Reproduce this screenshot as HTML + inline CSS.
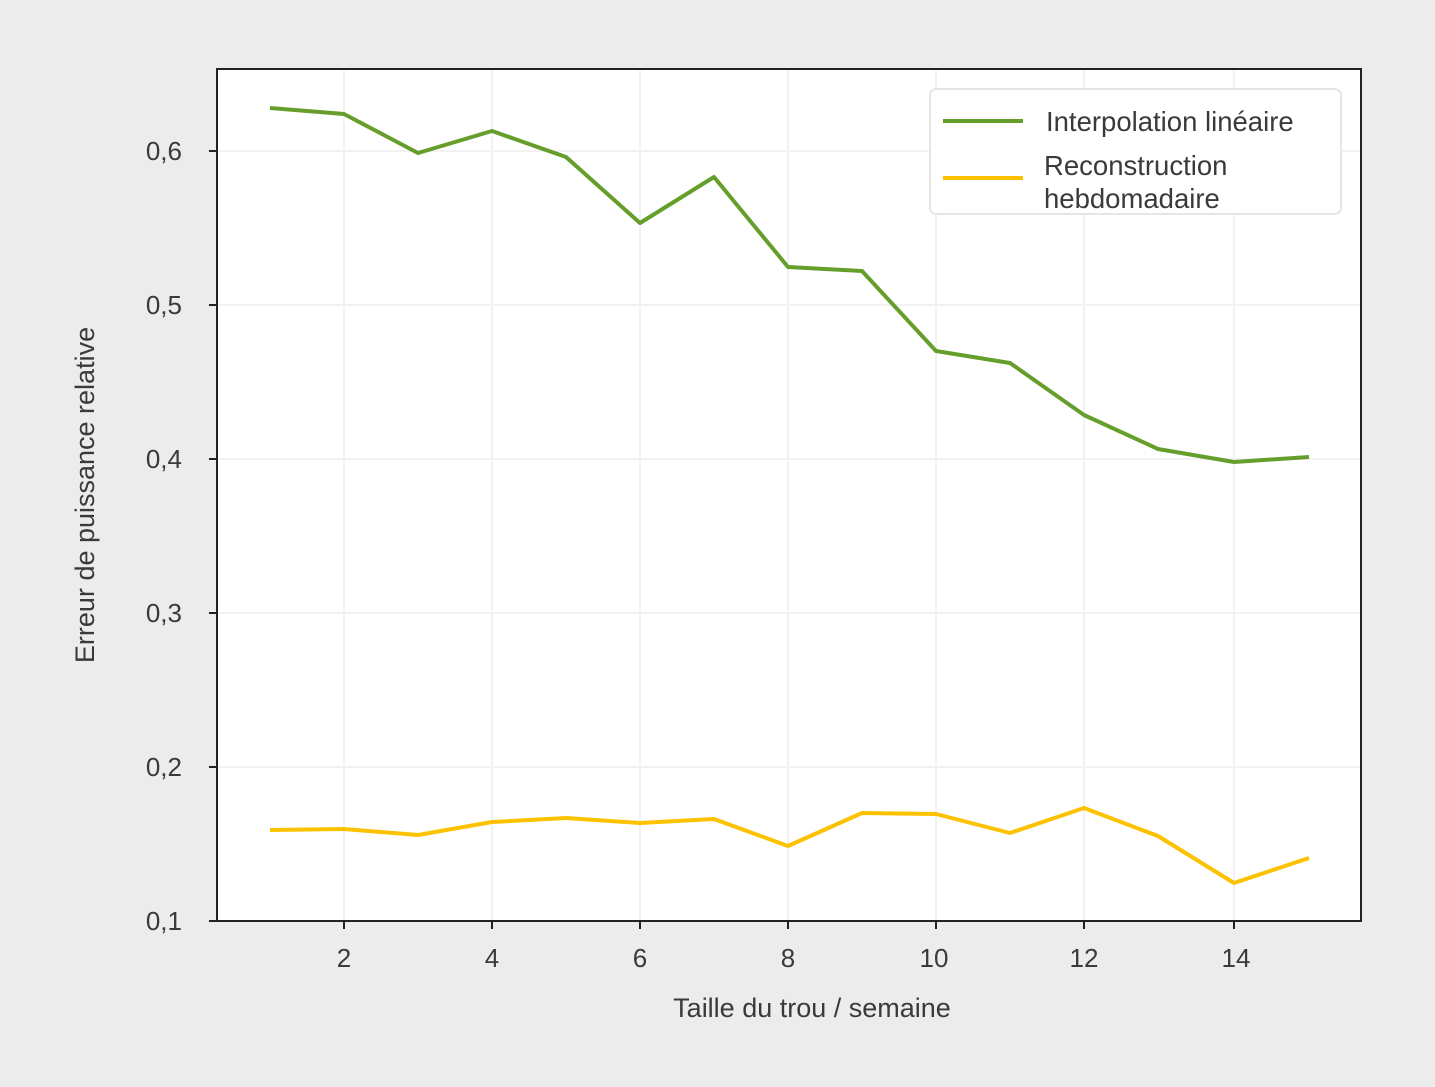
<!DOCTYPE html>
<html><head><meta charset="utf-8"><style>
html,body{margin:0;padding:0;background:#ececec;}
svg{display:block;}
text{font-family:"Liberation Sans",sans-serif;fill:#3a3a3a;}
</style></head><body>
<svg width="1435" height="1087" viewBox="0 0 1435 1087" xmlns="http://www.w3.org/2000/svg">
<rect width="1435" height="1087" fill="#ececec"/>
<rect x="217" y="69" width="1144" height="852" fill="#fff"/>
<g stroke="#f2f2f2" stroke-width="2">
<line x1="344" y1="69" x2="344" y2="921"/><line x1="492" y1="69" x2="492" y2="921"/>
<line x1="640" y1="69" x2="640" y2="921"/><line x1="788" y1="69" x2="788" y2="921"/>
<line x1="936" y1="69" x2="936" y2="921"/><line x1="1084" y1="69" x2="1084" y2="921"/>
<line x1="1234" y1="69" x2="1234" y2="921"/>
<line x1="217" y1="151" x2="1361" y2="151"/><line x1="217" y1="305" x2="1361" y2="305"/>
<line x1="217" y1="459" x2="1361" y2="459"/><line x1="217" y1="613" x2="1361" y2="613"/>
<line x1="217" y1="767" x2="1361" y2="767"/>
</g>
<polyline fill="none" stroke="#669e2b" stroke-width="4" stroke-linejoin="round" points="270,108 344,114 418,153 492,131 566,157 640,223 714,177 788,267 862,271 936,351 1010,363 1084,415 1158,449 1234,462 1309,457"/>
<polyline fill="none" stroke="#fcc200" stroke-width="4" stroke-linejoin="round" points="270,830 344,829 418,835 492,822 566,818 640,823 714,819 788,846 862,813 936,814 1010,833 1084,808 1158,836 1234,883 1309,858"/>
<rect x="217" y="69" width="1144" height="852" fill="none" stroke="#222" stroke-width="2"/>
<g stroke="#222" stroke-width="2">
<line x1="344" y1="921" x2="344" y2="929"/><line x1="492" y1="921" x2="492" y2="929"/>
<line x1="640" y1="921" x2="640" y2="929"/><line x1="788" y1="921" x2="788" y2="929"/>
<line x1="936" y1="921" x2="936" y2="929"/><line x1="1084" y1="921" x2="1084" y2="929"/>
<line x1="1234" y1="921" x2="1234" y2="929"/>
<line x1="209" y1="151" x2="217" y2="151"/><line x1="209" y1="305" x2="217" y2="305"/>
<line x1="209" y1="459" x2="217" y2="459"/><line x1="209" y1="613" x2="217" y2="613"/>
<line x1="209" y1="767" x2="217" y2="767"/><line x1="209" y1="921" x2="217" y2="921"/>
</g>
<g font-size="26" text-anchor="middle">
<text x="344" y="967">2</text><text x="492" y="967">4</text><text x="640" y="967">6</text>
<text x="788" y="967">8</text><text x="934" y="967">10</text><text x="1084" y="967">12</text>
<text x="1236" y="967">14</text>
</g>
<g font-size="26" text-anchor="end">
<text x="182" y="160">0,6</text><text x="182" y="314">0,5</text><text x="182" y="468">0,4</text>
<text x="182" y="622">0,3</text><text x="182" y="776">0,2</text><text x="182" y="930">0,1</text>
</g>
<text x="812" y="1017" font-size="27" text-anchor="middle">Taille du trou / semaine</text>
<text transform="translate(94,495) rotate(-90)" font-size="27" text-anchor="middle">Erreur de puissance relative</text>
<rect x="930" y="89" width="411" height="125" rx="6" fill="#fff" stroke="#e6e6e6" stroke-width="2"/>
<line x1="943" y1="121" x2="1023" y2="121" stroke="#669e2b" stroke-width="4"/>
<line x1="943" y1="178" x2="1023" y2="178" stroke="#fcc200" stroke-width="4"/>
<g font-size="27.5">
<text x="1046" y="131">Interpolation linéaire</text>
<text x="1044" y="175">Reconstruction</text>
<text x="1044" y="208">hebdomadaire</text>
</g>
</svg>
</body></html>
